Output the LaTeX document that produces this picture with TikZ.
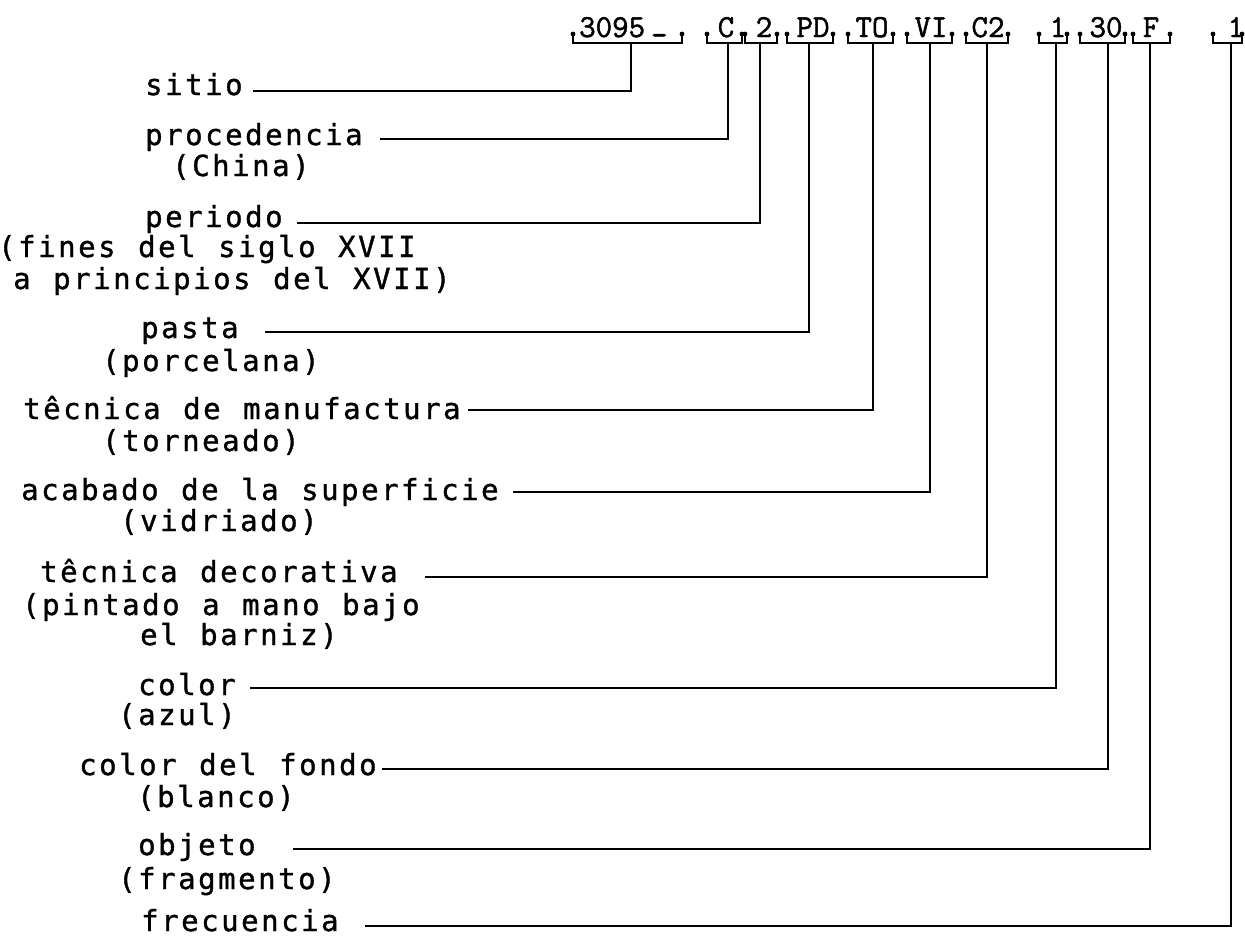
\documentclass[tikz,border=0pt]{standalone}
\usepackage{fontspec}
\newfontfamily\labfont[LetterSpace=8.76,FakeBold=1.2]{DejaVu Sans Mono}
\newfontfamily\codefont[FakeBold=1.5]{Latin Modern Mono}
\newcommand\labsty{\labfont\fontsize{29}{33}\selectfont\spaceskip=22.54pt\relax}
\newcommand\codesty{\codefont\fontsize{32}{34}\selectfont}
\newcommand\brk[4]{%
  \draw[brline] (#2,34) -- (#2,43) -- (#3,43) -- (#3,34);
  \fill (#2,34) circle (2.4);
  \fill (#3,34) circle (2.4);
  \coordinate (#1) at (#4,43);}
\begin{document}
\begin{tikzpicture}[x=1pt,y=-1pt,
  lab/.style={anchor=base west,inner sep=0pt,font=\labsty},
  code/.style={anchor=base,inner sep=0pt,font=\codesty},
  brline/.style={line width=2.2pt,line join=miter},
  conn/.style={line width=2.2pt,line join=miter}]
\useasboundingbox (0,0) rectangle (1245,937);
% code
\node[code,anchor=base west] (k1) at (579,37) {3095\kern6pt\raisebox{-8pt}{-}};
\node[code] (k2) at (726,37) {C};
\node[code] (k3) at (764,37) {2};
\node[code] (k4) at (813,37) {PD};
\node[code] (k5) at (872,37) {TO};
\node[code] (k6) at (931,37) {VI};
\node[code] (k7) at (988,37) {C2};
\node[code] (k8) at (1058,37) {1};
\node[code] (k9) at (1106,37) {30};
\node[code] (k10) at (1151,37) {F};
\node[code] (k11) at (1236,37) {1};
\brk{b1}{573}{682}{631}
\brk{b2}{707}{742}{728}
\brk{b3}{745}{777}{760}
\brk{b4}{787}{833}{809}
\brk{b5}{848}{893}{873}
\brk{b6}{907}{952}{930}
\brk{b7}{966}{1008}{987}
\brk{b8}{1039}{1067}{1056}
\brk{b9}{1080}{1125}{1108}
\brk{b10}{1133}{1170}{1150}
\brk{b11}{1213}{1242}{1231}
% labels
\node[lab] (l1) at (145,95) {sitio};
\node[lab] (l2) at (145,145) {procedencia};
\node[lab] (l2b) at (172,176) {(China)};
\node[lab] (l3) at (145,227) {periodo};
\node[lab] (l3b) at (-2,257) {(fines del siglo XVII};
\node[lab] (l3c) at (13,289) {a principios del XVII)};
\node[lab] (l4) at (141,338) {pasta};
\node[lab] (l4b) at (102,371) {(porcelana)};
\node[lab] (l5) at (23,419) {têcnica de manufactura};
\node[lab] (l5b) at (102,451) {(torneado)};
\node[lab] (l6) at (21,500) {acabado de la superficie};
\node[lab] (l6b) at (120,531) {(vidriado)};
\node[lab] (l7) at (40,582) {têcnica decorativa};
\node[lab] (l7b) at (22,615) {(pintado a mano bajo};
\node[lab] (l7c) at (140,645) {el barniz)};
\node[lab] (l8) at (138,695) {color};
\node[lab] (l8b) at (118,725) {(azul)};
\node[lab] (l9) at (79,775) {color del fondo};
\node[lab] (l9b) at (137,807) {(blanco)};
\node[lab] (l10) at (138,855) {objeto};
\node[lab] (l10b) at (118,889) {(fragmento)};
\node[lab] (l11) at (141,931) {frecuencia};
% line ends
\coordinate (e1) at (253,91);
\coordinate (e2) at (380,139);
\coordinate (e3) at (297,223);
\coordinate (e4) at (265,332);
\coordinate (e5) at (468,410);
\coordinate (e6) at (513,492);
\coordinate (e7) at (425,577);
\coordinate (e8) at (250,688);
\coordinate (e9) at (382,769);
\coordinate (e10) at (293,849);
\coordinate (e11) at (365,926);
\foreach \i in {1,...,11} {\draw[conn] (b\i) |- (e\i);}
\end{tikzpicture}
\end{document}
